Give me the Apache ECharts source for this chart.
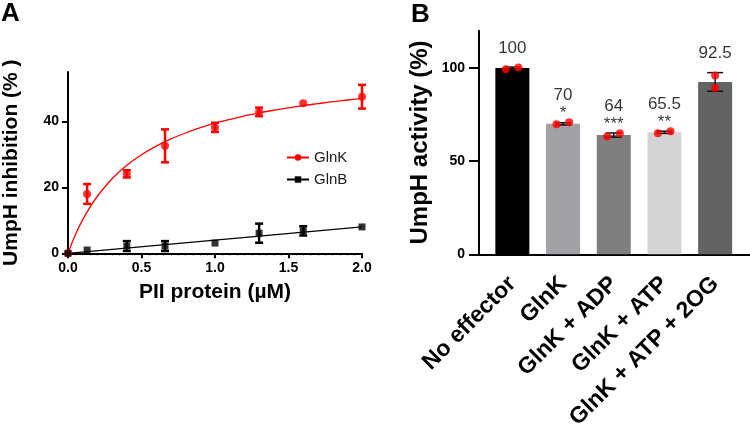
<!DOCTYPE html>
<html>
<head>
<meta charset="utf-8">
<script src="https://cdn.jsdelivr.net/npm/echarts@6/dist/echarts.min.js"></script>
<style>html,body{margin:0;padding:0;background:#fff}#c{width:750px;height:434px}</style>
</head>
<body>
<div id="c"></div>
<script>
// ---- Panel A data ----
const conc = [0, 0.13, 0.4, 0.66, 1.0, 1.3, 1.6, 2.0];
const glnK = [0, 18, 24.1, 32.6, 38.2, 42.9, 45.5, 47.5];
const glnKErr = [0, 3, 1.1, 5, 1.4, 1.3, 0, 3.6];
const glnB = [0, 1.0, 2.2, 2.2, 3.1, 6.1, 6.8, 8.0];
const glnBErr = [0, 0, 1.5, 1.5, 0, 2.9, 1.4, 0];
const glnKFitX = [0, 0.05, 0.1, 0.15, 0.2, 0.3, 0.4, 0.5, 0.6, 0.7, 0.8, 0.9, 1.0, 1.1, 1.2, 1.3, 1.4, 1.5, 1.6, 1.7, 1.8, 1.9, 2.0];
const glnKFitY = [0, 5.6, 10.2, 14.0, 17.3, 22.6, 26.7, 29.9, 32.5, 34.7, 36.5, 38.1, 39.5, 40.6, 41.7, 42.6, 43.4, 44.1, 44.8, 45.4, 46.0, 46.5, 47.0];
const glnBFitX = [0, 2.0];
const glnBFitY = [0, 8.0];
const xTicksA = [0, 0.5, 1.0, 1.5, 2.0];
const yTicksA = [0, 20, 40];

// ---- Panel B data ----
const cats = ['No effector', 'GlnK', 'GlnK + ADP', 'GlnK + ATP', 'GlnK + ATP + 2OG'];
const activity = [100, 70, 64, 65.5, 92.5];
const activityErr = [0.5, 0.6, 1.1, 0.6, 5];
const rep1 = [99.3, 69.8, 63.2, 65.0, 96.0];
const rep2 = [100.2, 70.9, 65.0, 66.1, 89.2];
const sig = ['', '*', '***', '**', ''];
const valueLabels = ['100', '70', '64', '65.5', '92.5'];
const yTicksB = [0, 50, 100];

// ---- styles ----
const FONT = "Arial, 'Liberation Sans', sans-serif";
const barColors = ['#000000', '#A1A1A6', '#7F7F7F', '#D4D4D4', '#636363'];
const jitter = [[-0.13, 0.12], [-0.13, 0.12], [-0.13, 0.12], [-0.13, 0.12], [0, 0]];

function zip(a, b) { return a.map((v, i) => [v, b[i]]); }

function errRender(capW, lw, color) {
  return function (params, api) {
    const x = api.value(0), y = api.value(1), e = api.value(2);
    if (!e) return null;
    const t = api.coord([x, y + e]), b = api.coord([x, y - e]);
    const st = { stroke: color, lineWidth: lw };
    return {
      type: 'group',
      children: [
        { type: 'line', shape: { x1: t[0], y1: t[1], x2: b[0], y2: b[1] }, style: st },
        { type: 'line', shape: { x1: t[0] - capW / 2, y1: t[1], x2: t[0] + capW / 2, y2: t[1] }, style: st },
        { type: 'line', shape: { x1: b[0] - capW / 2, y1: b[1], x2: b[0] + capW / 2, y2: b[1] }, style: st }
      ]
    };
  };
}

const axisLineStyle = { lineStyle: { color: '#000', width: 2 } };
const tickLabel = { color: '#000', fontWeight: 'bold', fontSize: 14, fontFamily: FONT };

const chart = echarts.init(document.getElementById('c'), null, { renderer: 'canvas' });

const repData = [];
activity.forEach((v, i) => {
  repData.push([i + jitter[i][0], rep1[i]]);
  repData.push([i + jitter[i][1], rep2[i]]);
});

chart.setOption({
  animation: false,
  textStyle: { fontFamily: FONT },
  graphic: [
    { type: 'text', left: 1, top: 1, style: { text: 'A', font: 'bold 26px ' + FONT, fill: '#000' } },
    { type: 'text', left: 411, top: 2, style: { text: 'B', font: 'bold 26px ' + FONT, fill: '#000' } }
  ],
  legend: {
    data: ['GlnK', 'GlnB'],
    orient: 'vertical', left: 281, top: 145,
    itemWidth: 22, itemHeight: 8, itemGap: 7,
    textStyle: { fontSize: 15, color: '#1a1a1a', fontFamily: FONT }
  },
  grid: [
    { left: 68, top: 72, width: 294, height: 181.3 },
    { left: 479, top: 30.7, width: 271, height: 223.6 },
    { left: 487, top: 30.7, width: 253.5, height: 223.6 }
  ],
  xAxis: [
    {
      gridIndex: 0, type: 'value', min: xTicksA[0], max: xTicksA[xTicksA.length - 1], interval: 0.5,
      name: 'PII protein (µM)', nameLocation: 'middle', nameGap: 28,
      nameTextStyle: { fontSize: 21, fontWeight: 'bold', color: '#000', fontFamily: FONT },
      axisLine: axisLineStyle,
      axisTick: { length: 5, lineStyle: { color: '#000', width: 2 } },
      minorTick: { show: true, splitNumber: 10, length: 2, lineStyle: { color: '#000', width: 1 } },
      axisLabel: Object.assign({ margin: 8, formatter: v => v.toFixed(1) }, tickLabel),
      splitLine: { show: false }
    },
    {
      gridIndex: 1, type: 'value', min: 0, max: 1,
      axisLine: axisLineStyle, axisTick: { show: false }, axisLabel: { show: false }, splitLine: { show: false }
    },
    {
      gridIndex: 2, type: 'category', data: cats,
      axisLine: { show: false },
      axisTick: { alignWithLabel: true, length: 9, lineStyle: { color: '#000', width: 2 } },
      axisLabel: { rotate: 45, margin: 26, interval: 0, color: '#000', fontWeight: 'bold', fontSize: 23, fontFamily: FONT }
    },
    { gridIndex: 2, type: 'value', min: -0.5, max: 4.5, show: false }
  ],
  yAxis: [
    {
      gridIndex: 0, type: 'value', min: 0, max: 55, interval: 20,
      name: 'UmpH inhibition (% )', nameLocation: 'middle', nameGap: 46,
      nameTextStyle: { fontSize: 21, fontWeight: 'bold', color: '#000', fontFamily: FONT },
      axisLine: { show: true, lineStyle: { color: '#000', width: 2 } },
      axisTick: { show: true, length: 6, lineStyle: { color: '#000', width: 2 } },
      axisLabel: Object.assign({ margin: 9, showMaxLabel: false }, tickLabel),
      splitLine: { show: false }
    },
    {
      gridIndex: 1, type: 'value', min: 0, max: 120, interval: 50,
      name: 'UmpH activity (%)', nameLocation: 'middle', nameGap: 47,
      nameTextStyle: { fontSize: 24, fontWeight: 'bold', color: '#000', fontFamily: FONT },
      axisLine: { show: true, lineStyle: { color: '#000', width: 2 } },
      axisTick: { show: true, length: 10, lineStyle: { color: '#000', width: 2 } },
      axisLabel: Object.assign({ margin: 14, showMaxLabel: false }, tickLabel),
      splitLine: { show: false }
    },
    { gridIndex: 2, type: 'value', min: 0, max: 120, show: false }
  ],
  series: [
    {
      name: 'GlnK', type: 'line', xAxisIndex: 0, yAxisIndex: 0,
      data: zip(glnKFitX, glnKFitY), smooth: 0.3,
      symbol: 'circle', symbolSize: 7, showSymbol: false,
      itemStyle: { color: '#FF0000' }, lineStyle: { color: '#FF0000', width: 1.3 }, z: 2
    },
    {
      name: 'GlnB', type: 'line', xAxisIndex: 0, yAxisIndex: 0,
      data: zip(glnBFitX, glnBFitY),
      symbol: 'rect', symbolSize: 7, showSymbol: false,
      itemStyle: { color: '#000' }, lineStyle: { color: '#000', width: 1.3 }, z: 2
    },
    {
      name: 'GlnK', type: 'custom', xAxisIndex: 0, yAxisIndex: 0,
      renderItem: errRender(8, 2.5, '#FF0000'),
      data: conc.map((x, i) => [x, glnK[i], glnKErr[i]]), z: 3
    },
    {
      name: 'GlnB', type: 'custom', xAxisIndex: 0, yAxisIndex: 0,
      renderItem: errRender(8, 2.5, '#000'),
      data: conc.map((x, i) => [x, glnB[i], glnBErr[i]]), z: 3
    },
    {
      name: 'GlnK', type: 'scatter', xAxisIndex: 0, yAxisIndex: 0,
      data: zip(conc, glnK), symbol: 'circle', symbolSize: 8,
      itemStyle: { color: '#FF0000' }, z: 4
    },
    {
      name: 'GlnB', type: 'scatter', xAxisIndex: 0, yAxisIndex: 0,
      data: zip(conc, glnB), symbol: 'rect', symbolSize: 7,
      itemStyle: { color: '#000' }, z: 5
    },
    // Panel B
    {
      name: 'activity', type: 'bar', xAxisIndex: 2, yAxisIndex: 2,
      data: activity.map((v, i) => ({ value: v, itemStyle: { color: barColors[i] } })),
      barWidth: 34, z: 2
    },
    {
      name: 'activityErr', type: 'custom', xAxisIndex: 3, yAxisIndex: 2,
      renderItem: errRender(16, 1.5, '#111'),
      data: activity.map((v, i) => [i, v, activityErr[i]]), z: 3
    },
    {
      name: 'replicates', type: 'scatter', xAxisIndex: 3, yAxisIndex: 2,
      data: repData, symbol: 'circle', symbolSize: 8,
      itemStyle: { color: '#FF0000' }, z: 4
    },
    {
      name: 'labels', type: 'scatter', xAxisIndex: 3, yAxisIndex: 2,
      symbolSize: 0, z: 5, silent: true,
      data: activity.map((v, i) => ({
        value: [i, v + activityErr[i]],
        label: {
          show: true, position: 'top', distance: sig[i] ? 2 : 8,
          formatter: sig[i] ? '{v|' + valueLabels[i] + '}\n{s|' + sig[i] + '}' : '{v|' + valueLabels[i] + '}',
          rich: {
            v: { fontSize: 17, color: '#000', fontFamily: FONT, lineHeight: 22, align: 'center' },
            s: { fontSize: 17, color: '#000', fontFamily: FONT, lineHeight: 14, align: 'center' }
          }
        }
      }))
    }
  ]
});
</script>
</body>
</html>
